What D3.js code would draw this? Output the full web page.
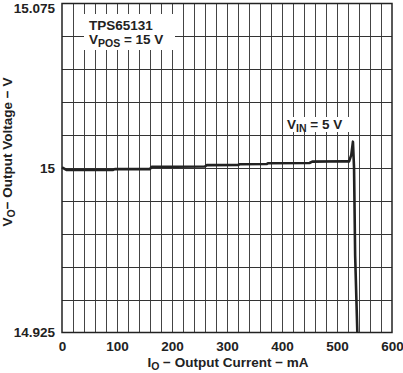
<!DOCTYPE html>
<html>
<head>
<meta charset="utf-8">
<script src="https://cdn.jsdelivr.net/npm/d3@7"></script>
<style>
  body { margin: 0; background: #fff; }
  text { font-family: "Liberation Sans", Arial, sans-serif; font-weight: bold; fill: #222; }
</style>
</head>
<body>
<div id="chart"></div>
<script>
// output current (mA) vs output voltage (V)
const currentMA = [0, 8, 50, 93, 96, 160, 163, 205, 260, 263, 320, 323, 372, 375, 450, 455, 515, 522, 526, 529, 531, 533, 537];
const voltageV = [15.0003, 14.9991, 14.9991, 14.9991, 14.9995, 14.9995, 15.0006, 15.0006, 15.0007, 15.0013, 15.0014, 15.0017, 15.0018, 15.0022, 15.0023, 15.0029, 15.0031, 15.0030, 15.006, 15.012, 15.0, 14.96, 14.925];

const xTicks = [0, 100, 200, 300, 400, 500, 600];
const yTicks = [14.925, 15, 15.075];

let width = 403, height = 373;
let margin = {top: 3.5, right: 11, bottom: 40.5, left: 62};
let fs = "13.5px";

let svg = d3.select("#chart").append("svg")
    .attr("width", width)
    .attr("height", height);

let x = d3.scaleLinear().domain([0, 600]).range([margin.left, width - margin.right]);
let y = d3.scaleLinear().domain([14.925, 15.075]).range([height - margin.bottom, margin.top]);

// grid
let grid = svg.append("g");
grid.selectAll(".vgrid")
    .data(d3.range(20, 600, 20))
    .enter().append("line")
    .attr("x1", d => Math.round(x(d)) + 0.5)
    .attr("x2", d => Math.round(x(d)) + 0.5)
    .attr("y1", y(15.075))
    .attr("y2", y(14.925))
    .attr("stroke", "#444")
    .attr("stroke-width", 1);

grid.selectAll(".hgrid")
    .data(d3.range(1, 10).map(i => 14.925 + i * 0.015))
    .enter().append("line")
    .attr("x1", x(0))
    .attr("x2", x(600))
    .attr("y1", d => Math.round(y(d)) + 0.5)
    .attr("y2", d => Math.round(y(d)) + 0.5)
    .attr("stroke", "#333")
    .attr("stroke-width", 1);

// frame
svg.append("rect")
    .attr("x", x(0))
    .attr("y", y(15.075))
    .attr("width", x(600) - x(0))
    .attr("height", y(14.925) - y(15.075))
    .attr("fill", "none")
    .attr("stroke", "#222")
    .attr("stroke-width", 1.5);

// axes (labels only)
let xAxis = d3.axisBottom(x).tickValues(xTicks).tickSize(0).tickPadding(9).tickFormat(d3.format("d"));
let gx = svg.append("g")
    .attr("transform", `translate(0,${y(14.925)})`)
    .call(xAxis);
gx.select(".domain").remove();
gx.selectAll("text").style("font-size", fs).style("font-family", "Liberation Sans, Arial, sans-serif").style("font-weight", "bold").attr("fill", "#222");

let yAxis = d3.axisLeft(y).tickValues(yTicks).tickSize(0).tickPadding(7).tickFormat(d => d === 15 ? "15" : d3.format(".3f")(d));
let gy = svg.append("g")
    .attr("transform", `translate(${x(0)},0)`)
    .call(yAxis);
gy.select(".domain").remove();
gy.selectAll("text").style("font-size", fs).style("font-family", "Liberation Sans, Arial, sans-serif").style("font-weight", "bold").attr("fill", "#222")
    .attr("dy", d => d === 15.075 ? "0.7em" : "0.32em");

// annotation boxes
svg.append("rect").attr("x", 84).attr("y", 14).attr("width", 91).attr("height", 36).attr("fill", "#fff");
svg.append("rect").attr("x", 283).attr("y", 117).attr("width", 66).attr("height", 15).attr("fill", "#fff");

let t1 = svg.append("text").attr("x", 89).attr("y", 30).style("font-size", fs);
t1.text("TPS65131");
let t2 = svg.append("text").attr("x", 89).attr("y", 44).style("font-size", fs);
t2.append("tspan").text("V");
t2.append("tspan").attr("dy", 3).style("font-size", "10.5px").text("POS");
t2.append("tspan").attr("dy", -3).text(" = 15 V");

let t3 = svg.append("text").attr("x", 287).attr("y", 129).style("font-size", fs);
t3.append("tspan").text("V");
t3.append("tspan").attr("dy", 3).style("font-size", "10.5px").text("IN");
t3.append("tspan").attr("dy", -3).text(" = 5 V");

// curve
let line = d3.line()
    .x((d, i) => x(currentMA[i]))
    .y(d => y(d));

svg.append("path")
    .datum(voltageV)
    .attr("d", line)
    .attr("fill", "none")
    .attr("stroke", "#222")
    .attr("stroke-width", 2.6)
    .attr("stroke-linejoin", "round");

// axis titles
let xt = svg.append("text").attr("x", 228).attr("y", 367).attr("text-anchor", "middle").style("font-size", fs);
xt.append("tspan").text("I");
xt.append("tspan").attr("dy", 3).style("font-size", "10.5px").text("O");
xt.append("tspan").attr("dy", -3).text(" − Output Current − mA");

let yt = svg.append("text")
    .attr("transform", "translate(12,152) rotate(-90)")
    .attr("text-anchor", "middle")
    .style("font-size", fs);
yt.append("tspan").text("V");
yt.append("tspan").attr("dy", 3).style("font-size", "10.5px").text("O");
yt.append("tspan").attr("dy", -3).text("− Output Voltage − V");
</script>
</body>
</html>
